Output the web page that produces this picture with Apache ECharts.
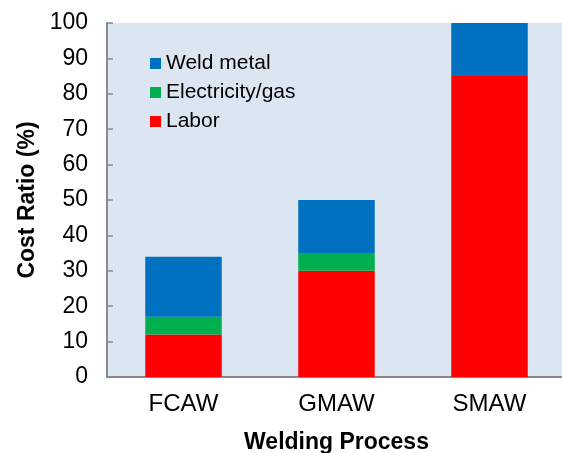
<!DOCTYPE html>
<html>
<head>
<meta charset="utf-8">
<script src="https://cdn.jsdelivr.net/npm/echarts@6/dist/echarts.min.js"></script>
<style>html,body{margin:0;padding:0;background:#fff;}#c{width:562px;height:453px;}</style>
</head>
<body>
<div id="c"></div>
<script>
const categories = ['FCAW', 'GMAW', 'SMAW'];
const labor = [12, 30, 85];
const electricity = [5, 5, 0];
const weldMetal = [17, 15, 15];
const yTicks = [0, 10, 20, 30, 40, 50, 60, 70, 80, 90, 100];

const font = 'Liberation Sans, Arial, sans-serif';
const chart = echarts.init(document.getElementById('c'), null, {renderer: 'canvas'});
chart.setOption({
  animation: false,
  grid: {left: 107, top: 23, width: 459, bottom: 76, show: true, backgroundColor: '#DCE6F2', borderWidth: 0,
         containLabel: false, outerBoundsMode: 'none'},
  legend: {
    data: ['Weld metal', 'Electricity/gas', 'Labor'],
    orient: 'vertical', left: 150, top: 53,
    itemWidth: 11, itemHeight: 11, itemGap: 8,
    icon: 'rect',
    textStyle: {fontFamily: font, fontSize: 21, color: '#000', padding: [0, 0, 0, 0]},
    padding: 0
  },
  xAxis: {
    type: 'category', data: categories,
    name: 'Welding Process', nameLocation: 'middle', nameGap: 54,
    nameTextStyle: {fontFamily: font, fontSize: 23, fontWeight: 'bold', color: '#000'},
    axisLine: {lineStyle: {color: '#888', width: 2}},
    axisTick: {inside: true, length: 6, lineStyle: {color: '#888', width: 1.5}},
    axisLabel: {fontFamily: font, fontSize: 24, color: '#000', margin: 15}
  },
  yAxis: {
    type: 'value', min: yTicks[0], max: yTicks[yTicks.length - 1], interval: 10,
    name: 'Cost Ratio (%)', nameLocation: 'middle', nameGap: 63,
    nameTextStyle: {fontFamily: font, fontSize: 23, fontWeight: 'bold', color: '#000'},
    axisLine: {show: true, lineStyle: {color: '#888', width: 2}},
    axisTick: {show: true, inside: true, length: 6, lineStyle: {color: '#888', width: 1.5}},
    splitLine: {show: false},
    axisLabel: {fontFamily: font, fontSize: 23, color: '#000', margin: 19}
  },
  series: [
    {name: 'Labor', type: 'bar', stack: 'c', data: labor, barWidth: '50%', itemStyle: {color: '#FF0000'}},
    {name: 'Electricity/gas', type: 'bar', stack: 'c', data: electricity, barWidth: '50%', itemStyle: {color: '#00B050'}},
    {name: 'Weld metal', type: 'bar', stack: 'c', data: weldMetal, barWidth: '50%', itemStyle: {color: '#0070C0'}}
  ]
});
</script>
</body>
</html>
